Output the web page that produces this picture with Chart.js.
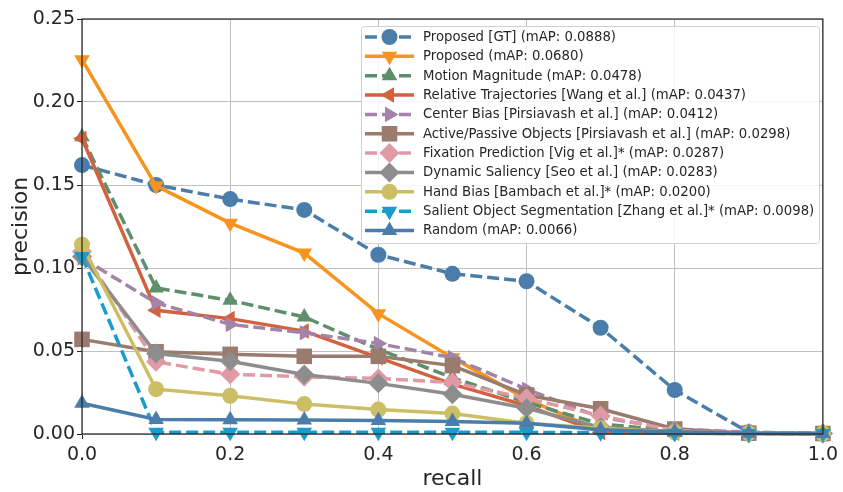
<!DOCTYPE html>
<html>
<head>
<meta charset="utf-8">
<script src="https://cdn.jsdelivr.net/npm/chart.js@4/dist/chart.umd.min.js"></script>
<style>
  html, body { margin: 0; padding: 0; background: #fff; }
  #wrap { width: 843px; height: 492px; }
</style>
</head>
<body>
<div id="wrap"><canvas id="pr"></canvas></div>
<script>
// precision / recall curves

var recall = [0.0, 0.1, 0.2, 0.3, 0.4, 0.5, 0.6, 0.7, 0.8, 0.9, 1.0];

var proposedGT    = [0.162, 0.150, 0.1415, 0.135, 0.108, 0.0965, 0.092, 0.064, 0.0265, 0.001, 0.0003];
var proposed      = [0.2255, 0.1495, 0.127, 0.109, 0.0725, 0.046, 0.021, 0.002, 0.0005, 0.0003, 0.0002];
var motionMag     = [0.179, 0.088, 0.0805, 0.0705, 0.051, 0.034, 0.019, 0.006, 0.002, 0.0005, 0.0002];
var relTraj       = [0.178, 0.0745, 0.0695, 0.062, 0.046, 0.030, 0.017, 0.001, 0.0005, 0.0003, 0.0002];
var centerBias    = [0.106, 0.079, 0.066, 0.061, 0.0545, 0.046, 0.027, 0.010, 0.003, 0.001, 0.0005];
var activePassive = [0.057, 0.0495, 0.048, 0.0468, 0.0468, 0.0412, 0.0235, 0.0152, 0.003, 0.0005, 0.0003];
var fixationPred  = [0.110, 0.0435, 0.036, 0.0345, 0.0335, 0.031, 0.0215, 0.011, 0.002, 0.0005, 0.0003];
var dynSaliency   = [0.107, 0.0485, 0.0438, 0.0358, 0.0305, 0.024, 0.0155, 0.004, 0.0015, 0.0005, 0.0003];
var handBias      = [0.114, 0.027, 0.023, 0.018, 0.0147, 0.0123, 0.0065, 0.0035, 0.001, 0.0005, 0.0003];
var salientSeg    = [0.107, 0.001, 0.001, 0.001, 0.001, 0.001, 0.001, 0.0008, 0.0005, 0.0003, 0.0003];
var randomBase    = [0.0185, 0.0088, 0.0086, 0.0084, 0.0082, 0.0075, 0.0065, 0.0025, 0.0012, 0.0005, 0.0003];

var seriesLabels = [
  'Proposed [GT] (mAP: 0.0888)',
  'Proposed (mAP: 0.0680)',
  'Motion Magnitude (mAP: 0.0478)',
  'Relative Trajectories [Wang et al.] (mAP: 0.0437)',
  'Center Bias [Pirsiavash et al.] (mAP: 0.0412)',
  'Active/Passive Objects [Pirsiavash et al.] (mAP: 0.0298)',
  'Fixation Prediction [Vig et al.]* (mAP: 0.0287)',
  'Dynamic Saliency [Seo et al.] (mAP: 0.0283)',
  'Hand Bias [Bambach et al.]* (mAP: 0.0200)',
  'Salient Object Segmentation [Zhang et al.]* (mAP: 0.0098)',
  'Random (mAP: 0.0066)'
];
var seriesValues = [proposedGT, proposed, motionMag, relTraj, centerBias, activePassive,
  fixationPred, dynSaliency, handBias, salientSeg, randomBase];

var xTicks = [0.0, 0.2, 0.4, 0.6, 0.8, 1.0];
var yTicks = [0.00, 0.05, 0.10, 0.15, 0.20, 0.25];

// style per series: colour, dashed?, marker, rotation, radius
var styles = [
  { color: '#4B7DAA', dash: true,  shape: 'circle',   rot: 0,   r: 8 },
  { color: '#F7941F', dash: false, shape: 'triangle', rot: 180, r: 9 },
  { color: '#5E8F6C', dash: true,  shape: 'triangle', rot: 0,   r: 9 },
  { color: '#D2623F', dash: false, shape: 'triangle', rot: 270, r: 9 },
  { color: '#A384A8', dash: true,  shape: 'triangle', rot: 90,  r: 9 },
  { color: '#9B7B6E', dash: false, shape: 'rect',     rot: 0,   r: 11 },
  { color: '#E09AA5', dash: true,  shape: 'rectRot',  rot: 0,   r: 10 },
  { color: '#8D8D8D', dash: false, shape: 'rectRot',  rot: 0,   r: 10 },
  { color: '#CBBE65', dash: false, shape: 'circle',   rot: 0,   r: 8 },
  { color: '#1A9BCB', dash: true,  shape: 'triangle', rot: 180, r: 9 },
  { color: '#4A7DAA', dash: false, shape: 'triangle', rot: 0,   r: 9 }
];

var FONT = "'DejaVu Sans', sans-serif";
var DASH = [12, 5];

var datasets = seriesValues.map(function (vals, i) {
  var s = styles[i];
  return {
    label: seriesLabels[i],
    data: vals.map(function (v, k) { return { x: recall[k], y: v }; }),
    borderColor: s.color,
    backgroundColor: s.color,
    borderWidth: 3.5,
    borderDash: s.dash ? DASH : [],
    pointStyle: s.shape,
    pointRotation: s.rot,
    pointRadius: s.r,
    pointBorderWidth: 0,
    pointBackgroundColor: s.color,
    tension: 0,
    fill: false,
    clip: false,
    order: seriesValues.length - i // later series on top, like matplotlib
  };
});

// full box around the plot area
var frameBox = {
  id: 'frameBox',
  afterDatasetsDraw: function (chart) {
    var a = chart.chartArea, ctx = chart.ctx;
    ctx.save();
    ctx.strokeStyle = '#222';
    ctx.lineWidth = 1.2;
    ctx.strokeRect(a.left, a.top, a.right - a.left, a.bottom - a.top);
    ctx.restore();
  }
};

// matplotlib style legend: line + marker handle, inside upper right
var mplLegend = {
  id: 'mplLegend',
  afterDraw: function (chart) {
    var ctx = chart.ctx;
    var left = 361, top = 26, w = 458, h = 217, rowH = 19.35;
    ctx.save();
    ctx.fillStyle = 'rgba(255,255,255,0.85)';
    ctx.strokeStyle = '#d0d0d0';
    ctx.lineWidth = 1;
    ctx.beginPath();
    ctx.roundRect(left + 0.5, top + 0.5, w, h, 3);
    ctx.fill();
    ctx.stroke();

    seriesLabels.forEach(function (label, i) {
      var s = styles[i];
      var y = top + 11 + i * rowH;
      ctx.strokeStyle = s.color;
      ctx.lineWidth = 3.5;
      ctx.setLineDash(s.dash ? DASH : []);
      ctx.beginPath();
      ctx.moveTo(365, y);
      ctx.lineTo(414, y);
      ctx.stroke();
      ctx.setLineDash([]);
      ctx.fillStyle = s.color;
      Chart.helpers.drawPoint(ctx, {
        pointStyle: s.shape, rotation: s.rot, radius: s.r, borderWidth: 0
      }, 389.5, y);
      ctx.fillStyle = '#262626';
      ctx.font = '13.25px ' + FONT;
      ctx.textBaseline = 'middle';
      ctx.textAlign = 'left';
      ctx.fillText(label, 423, y + 0.5);
    });
    ctx.restore();
  }
};

new Chart(document.getElementById('pr').getContext('2d'), {
  type: 'line',
  data: { datasets: datasets },
  options: {
    responsive: true,
    maintainAspectRatio: false,
    animation: false,
    layout: { padding: { top: 19, right: 17, left: 0, bottom: 0 } },
    plugins: {
      legend: { display: false },
      tooltip: { enabled: false }
    },
    scales: {
      x: {
        type: 'linear',
        min: 0, max: 1,
        afterFit: function (scale) { scale.height = 58; },
        afterBuildTicks: function (scale) {
          scale.ticks = xTicks.map(function (v) { return { value: v }; });
        },
        grid: { color: '#c0c0c0', lineWidth: 1, tickLength: 5, tickColor: '#222' },
        border: { display: false },
        ticks: {
          color: '#262626',
          padding: 5,
          font: { family: FONT, size: 19 },
          callback: function (v) { return v.toFixed(1); }
        },
        title: {
          display: true, text: 'recall', color: '#262626',
          font: { family: FONT, size: 22 }, padding: { top: 0, bottom: 0 }
        }
      },
      y: {
        type: 'linear',
        min: 0, max: 0.25,
        afterFit: function (scale) { scale.width = 82; },
        afterBuildTicks: function (scale) {
          scale.ticks = yTicks.map(function (v) { return { value: v }; });
        },
        grid: { color: '#c0c0c0', lineWidth: 1, tickLength: 5, tickColor: '#222' },
        border: { display: false },
        ticks: {
          color: '#262626',
          padding: 2,
          font: { family: FONT, size: 19 },
          callback: function (v) { return v.toFixed(2); }
        },
        title: {
          display: true, text: 'precision', color: '#262626',
          font: { family: FONT, size: 22 }, padding: { top: 8, bottom: 0 }
        }
      }
    }
  },
  plugins: [frameBox, mplLegend]
});
</script>
</body>
</html>
